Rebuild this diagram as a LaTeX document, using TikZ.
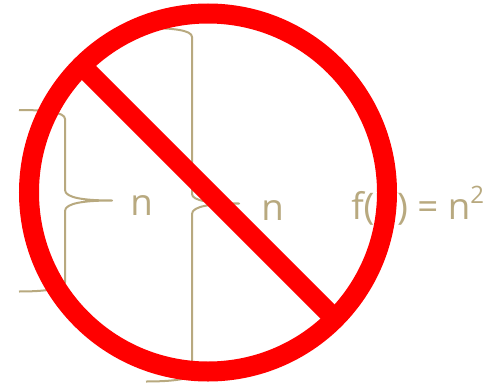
\documentclass[tikz,border=0pt]{standalone}
\usepackage{fontspec}
\setmainfont{Open Sans}
\definecolor{tan}{HTML}{B8A97F}
\tikzset{
  brace/.style={draw=tan,line width=1.5pt,line join=round},
  lbl/.style={text=tan,font=\fontsize{27.5}{32}\selectfont,inner sep=0pt,anchor=base west},
  ban/.style={draw=red,line width=15pt}
}
\begin{document}
\begin{tikzpicture}[x=0.75pt,y=-0.75pt]
\useasboundingbox (0,0) rectangle (488,385);
\path[fill=white] (0,0) rectangle (488,385);
\draw[brace] (19,110) .. controls (45,110) and (65,112) .. (65,119) -- (65,190)
  .. controls (65,198) and (85,200.5) .. (112,200.5)
  .. controls (85,200.5) and (65,203) .. (65,211) -- (65,282)
  .. controls (65,289) and (45,291.5) .. (19,291.5);
\draw[brace] (146,28) .. controls (172,28) and (192,30) .. (192,37) -- (192,194)
  .. controls (192,201) and (212,203.5) .. (239,203.5)
  .. controls (212,203.5) and (192,206) .. (192,214) -- (192,374)
  .. controls (192,379) and (172,381.5) .. (146,381.5);
\node[lbl] (n1) at (130,215) {n};
\node[lbl] (n2) at (261,220) {n};
\node[lbl] (fn) at (351,219) {f(n) = n\raisebox{0.42em}{\fontsize{18}{20}\selectfont 2}};
\draw[ban] (208,192.5) circle[radius=179];
\draw[ban] (81,65) -- (335,319);
\end{tikzpicture}
\end{document}
